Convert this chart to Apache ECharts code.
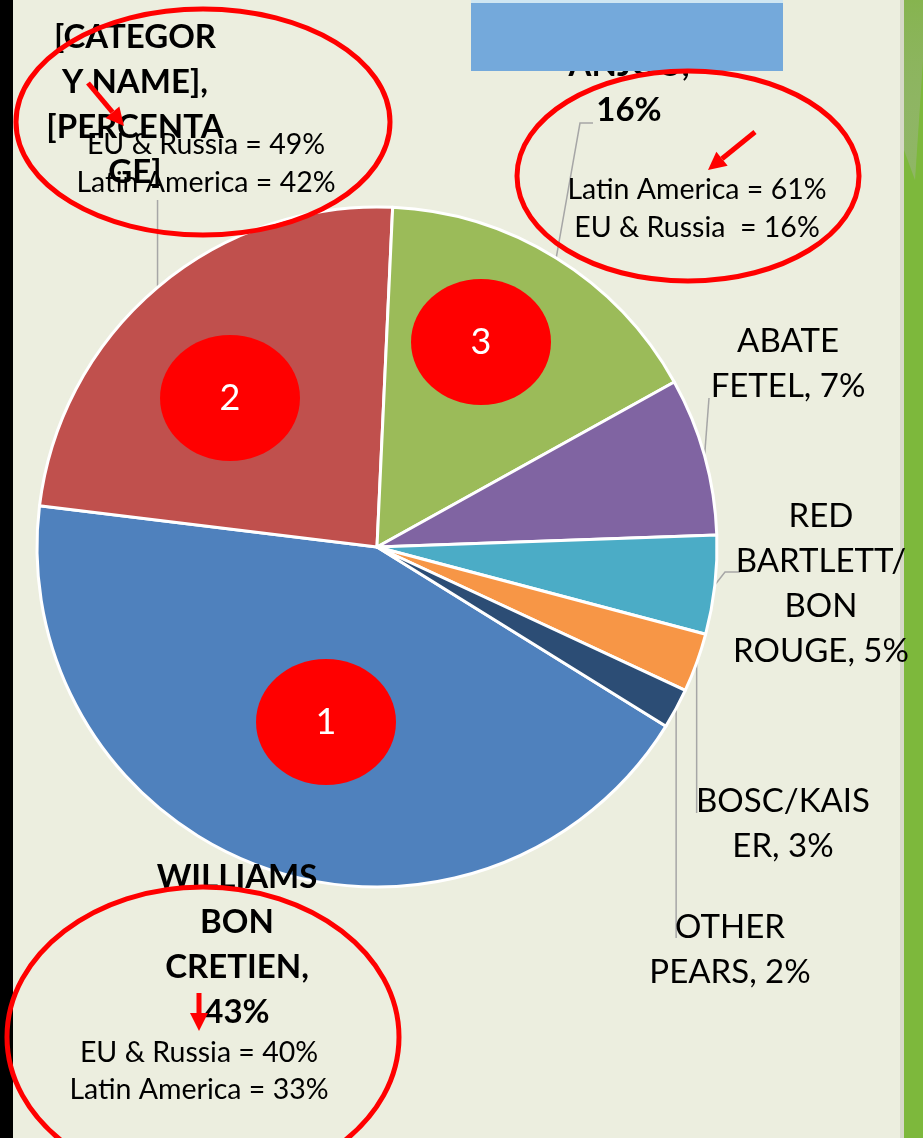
<!DOCTYPE html>
<html>
<head>
<meta charset="utf-8">
<style>
  html, body { margin: 0; padding: 0; background: #eceedf; }
  #main { width: 923px; height: 1138px; }
</style>
<script src="https://cdn.jsdelivr.net/npm/echarts@6/dist/echarts.min.js"></script>
</head>
<body>
<div id="main"></div>
<script>
// 数据
const categories = ['WILLIAMS BON CRETIEN', '[CATEGORY NAME]', 'ANJOU', 'ABATE FETEL', 'RED BARTLETT/BON ROUGE', 'BOSC/KAISER', 'OTHER PEARS'];
const shares = [43.1, 23.8, 16.2, 7.5, 4.7, 2.8, 1.9];
const labelTexts = [
    'WILLIAMS\nBON\nCRETIEN,\n43%',
    '[CATEGOR\nY NAME],\n[PERCENTA\nGE]',
    'ANJOU,\n16%',
    'ABATE\nFETEL, 7%',
    'RED\nBARTLETT/\nBON\nROUGE, 5%',
    'BOSC/KAIS\nER, 3%',
    'OTHER\nPEARS, 2%'
];
const regionNotes = [
    ['EU & Russia = 49%', 'Latin America = 42%'],
    ['Latin America = 61%', 'EU & Russia  = 16%'],
    ['EU & Russia = 40%', 'Latin America = 33%']
];
const rankNumbers = ['1', '2', '3'];

// 样式 / 位置
const colors = ['#4f81bd', '#c0504d', '#9bbb59', '#8064a2', '#4bacc6', '#f79646', '#2c4d75'];
const labelPos = [[237, 945], [135, 105], [629, 88], [788, 364], [821, 584], [783, 824], [730, 950]];
const labelBold = [true, true, true, false, false, false, false];
// 引导线: 从扇区边缘中点出发, null = 沿用起点 x
const guideEnds = [null, [[null, 200]], [[580, 123], [593, 123]], [[709, 398]], [[725, 572], [740, 572]], [[null, 813]], [[null, 938]]];
const notePos = [[206, 145, 183], [697, 190, 228], [199, 1053, 1090]];
const ringPos = [[203, 122, 187, 113], [688, 176, 171, 105], [203, 1037, 196, 150]];
const rankPos = [[326, 722], [230, 398], [481, 342]];
const FONT = 'Lato, "Open Sans", sans-serif';

let chart = echarts.init(document.getElementById('main'));

// 箭头
function arrow(x1, y1, x2, y2) {
    let dx = x2 - x1, dy = y2 - y1;
    let len = Math.sqrt(dx * dx + dy * dy);
    let ux = dx / len, uy = dy / len;
    let bx = x2 - ux * 18, by = y2 - uy * 18;
    return [
        { type: 'line', z: 120, shape: { x1: x1, y1: y1, x2: bx, y2: by }, style: { stroke: '#ff0000', lineWidth: 5 } },
        { type: 'polygon', z: 120, shape: { points: [[x2, y2], [bx - uy * 9, by + ux * 9], [bx + uy * 9, by - ux * 9]] }, style: { fill: '#ff0000' } }
    ];
}

let graphics = [
    { type: 'rect', z: 0, shape: { x: 0, y: 0, width: 13, height: 1138 }, style: { fill: '#000' } },
    { type: 'rect', z: 0, shape: { x: 900, y: 0, width: 4, height: 1138 }, style: { fill: '#d6d9c8' } },
    { type: 'rect', z: 0, shape: { x: 904, y: 0, width: 19, height: 1138 }, style: { fill: '#7db83c' } },
    { type: 'polygon', z: 0, shape: { points: [[904, 0], [923, 0], [923, 60], [915, 180], [904, 150]] },
      style: { fill: new echarts.graphic.LinearGradient(0, 0, 0, 1, [{ offset: 0, color: '#86b44f' }, { offset: 1, color: 'rgba(160,180,140,0.5)' }]) } },
    { type: 'rect', z: 100, shape: { x: 471, y: 0, width: 312, height: 71 }, style: { fill: '#74a9db' } },
    { type: 'rect', z: 101, shape: { x: 471, y: 0, width: 312, height: 3 }, style: { fill: '#cfe6f2' } }
];

ringPos.forEach(function (r) {
    graphics.push({ type: 'ellipse', z: 110, shape: { cx: r[0], cy: r[1], rx: r[2], ry: r[3] },
        style: { fill: 'none', stroke: '#ff0000', lineWidth: 5 } });
});

rankPos.forEach(function (p, i) {
    graphics.push({ type: 'ellipse', z: 110, shape: { cx: p[0], cy: p[1], rx: 70, ry: 63 }, style: { fill: '#ff0000' } });
    graphics.push({ type: 'text', z: 111, x: p[0], y: p[1],
        style: { text: rankNumbers[i], fill: '#fff', font: '36px ' + FONT, align: 'center', verticalAlign: 'middle' } });
});

regionNotes.forEach(function (lines, i) {
    let p = notePos[i];
    lines.forEach(function (t, j) {
        graphics.push({ type: 'text', z: 105, x: p[0], y: p[j + 1],
            style: { text: t, fill: '#000', font: '28.5px ' + FONT, align: 'center', verticalAlign: 'middle' } });
    });
});

graphics = graphics.concat(arrow(88, 83, 124, 126), arrow(755, 132, 708, 170), arrow(199, 993, 199, 1031));

let option = {
    backgroundColor: '#eceedf',
    animation: false,
    color: colors,
    graphic: graphics,
    series: [{
        type: 'pie',
        center: [377, 547],
        radius: 340,
        startAngle: 328.2,
        clockwise: true,
        itemStyle: { borderColor: '#ffffff', borderWidth: 3 },
        label: {
            show: true,
            color: '#000',
            fontFamily: FONT,
            fontSize: 33,
            lineHeight: 45,
            align: 'center',
            overflow: 'none',
            formatter: function (p) { return labelTexts[p.dataIndex]; }
        },
        labelLine: {
            show: true,
            length: 10,
            length2: 10,
            lineStyle: { color: '#a6a6a6', width: 1.5 }
        },
        labelLayout: function (p) {
            let pos = labelPos[p.dataIndex];
            let res = { x: pos[0], y: pos[1], align: 'center', verticalAlign: 'middle' };
            let ends = guideEnds[p.dataIndex];
            if (ends && p.labelLinePoints) {
                let a = p.labelLinePoints[0];
                res.labelLinePoints = [[a[0], a[1]]].concat(ends.map(function (e) {
                    return [e[0] == null ? a[0] : e[0], e[1]];
                }));
            }
            return res;
        },
        data: shares.map(function (v, i) {
            return {
                name: categories[i],
                value: v,
                label: { fontWeight: labelBold[i] ? 'bold' : 'normal' },
                labelLine: { show: i !== 0 }
            };
        })
    }]
};
chart.setOption(option);
</script>
</body>
</html>
